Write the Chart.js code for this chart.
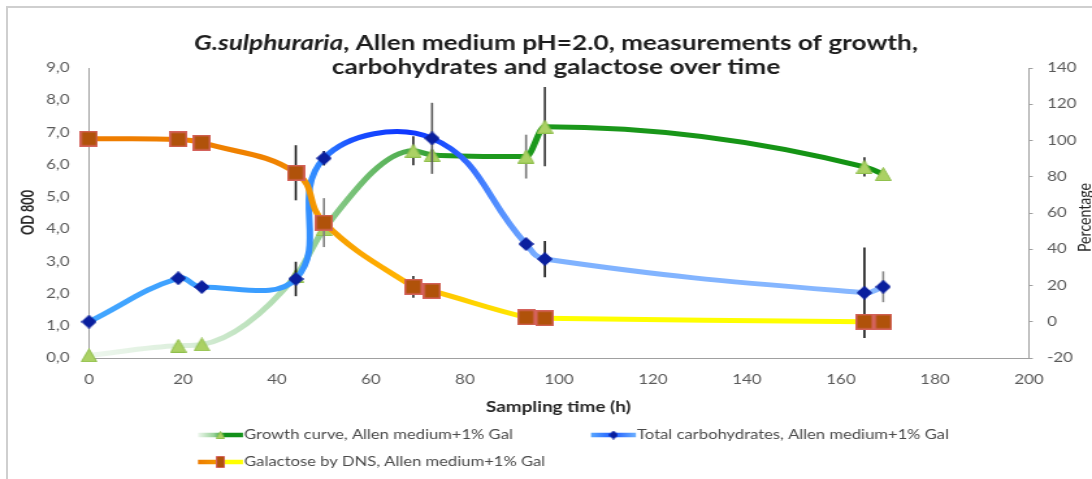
<!DOCTYPE html>
<html><head><meta charset="utf-8">
<script src="https://cdn.jsdelivr.net/npm/chart.js@4.4.1/dist/chart.umd.min.js"></script>
<style>
html,body{margin:0;padding:0;background:#fff;width:1092px;height:479px;overflow:hidden;}
#frame{position:absolute;left:6px;top:6px;width:1200px;height:600px;border-left:2px solid #cfcfcf;border-top:2px solid #cfcfcf;}
#wrap{position:absolute;left:0;top:0;width:840px;height:479px;transform:scaleX(1.3);transform-origin:0 0;}
canvas{display:block;}
</style></head><body>
<div id="frame"></div>
<div id="wrap"><canvas id="c" width="840" height="479"></canvas></div>
<script>
// ---------------- data ----------------
const titleLine1 = ['G.sulphuraria', ', Allen medium pH=2.0, measurements of growth,'];
const titleLine2 = 'carbohydrates and galactose over time';
const xTitle = 'Sampling time (h)';
const yTitle = 'OD 800';
const y1Title = 'Percentage';
const growthLabel = 'Growth curve, Allen medium+1% Gal';
const carbLabel = 'Total carbohydrates, Allen medium+1% Gal';
const galLabel = 'Galactose by DNS, Allen medium+1% Gal';

const times     = [0, 19, 24, 44, 50, 69, 73, 93, 97, 165, 169];
const growthOD  = [0.08, 0.38, 0.42, 2.55, 4.0, 6.43, 6.30, 6.25, 7.18, 5.93, 5.71];
const growthErr = [0, 0, 0, 0, 0, 0.45, 0, 0.68, 1.23, 0.3, 0];
const carbTimes = [0, 19, 24, 44, 50, 73, 93, 97, 165, 169];
const carbPct   = [0, 24, 19.2, 23.6, 90.2, 101.2, 42.9, 34.6, 16, 19.3];
const carbErr   = [0, 0, 0, 9.5, 4, 19.6, 0, 10, 25, 8.5];
const galPct    = [101, 100.6, 98.8, 82.2, 54.7, 19.3, 17, 2.4, 1.9, 0, 0];
const galErr    = [0, 0, 0, 15.2, 13.5, 6, 4, 0, 0, 0, 0];

const xTicks  = {min: 0, max: 200, step: 20};
const yTicks  = {min: 0, max: 9, step: 1};
const y1Ticks = {min: -20, max: 140, step: 20};

// ---------------- styling ----------------
const growthErrShade = ['#111','#111','#111','#111','#111','#222','#111','#777','#333','#222','#111'];
const carbErrShade   = ['#111','#111','#111','#111','#222','#555','#111','#111','#111','#888'];
const galErrShade    = ['#111','#111','#111','#111','#808080','#222','#666','#111','#111','#111','#111'];

const greenStops = [[0,'#eef7ee'],[20,'#dcefdc'],[40,'#b2ddb2'],[50,'#8fcd8f'],[62,'#62b762'],[69,'#4aab4a'],[76,'#1f9a1f'],[200,'#0f900f']];
const blueStops  = [[0,'#42a6ff'],[44,'#3a9cff'],[49,'#2f86ff'],[56,'#1a50ff'],[68,'#0d36ff'],[76,'#1e52ff'],[86,'#4f8cff'],[97,'#7fb2ff'],[200,'#8dbbff']];
const orangeStops= [[0,'#ee7c00'],[40,'#f08300'],[50,'#f59c00'],[62,'#ffac00'],[74,'#ffc400'],[88,'#ffe000'],[97,'#ffff00'],[200,'#ffff00']];

function marker(shape, w, h, fill, stroke, lw) {
  const c = document.createElement('canvas'); c.width = w; c.height = h;
  const g = c.getContext('2d');
  g.fillStyle = fill; g.strokeStyle = stroke; g.lineWidth = lw;
  const p = lw / 2;
  g.beginPath();
  if (shape === 'tri') { g.moveTo(w/2, p); g.lineTo(w-p, h-p); g.lineTo(p, h-p); g.closePath(); }
  else if (shape === 'dia') { g.moveTo(w/2, p); g.lineTo(w-p, h/2); g.lineTo(w/2, h-p); g.lineTo(p, h/2); g.closePath(); }
  else { g.rect(p, p, w-lw, h-lw); }
  g.fill(); if (lw > 0) g.stroke();
  return c;
}
const triM = marker('tri', 13, 14, '#abd164', '#8fbf4c', 1);
const diaM = marker('dia', 12, 14, '#0a1f9e', '#0a1f9e', 1);
const sqM  = marker('sq', 14, 16, '#b0520a', '#d4625c', 1.5);
const legTri = marker('tri', 7, 8, '#abd164', '#8fbf4c', 1);
const legDia = marker('dia', 7, 9, '#0a1f9e', '#0a1f9e', 1);
const legSq  = marker('sq', 7, 12, '#b0520a', '#d4625c', 1);

function lineGrad(chart, stops) {
  const xs = chart.scales.x;
  if (!xs || !chart.chartArea) return stops[0][1];
  const x0 = xs.getPixelForValue(xTicks.min), x1 = xs.getPixelForValue(xTicks.max);
  const g = chart.ctx.createLinearGradient(x0, 0, x1, 0);
  stops.forEach(([t, c]) => g.addColorStop((t - xTicks.min) / (xTicks.max - xTicks.min), c));
  return g;
}

const errorBars = {
  id: 'errorBars',
  beforeDatasetDraw(chart, args) {
    const ds = chart.data.datasets[args.index];
    if (!ds.errors) return;
    const ctx = chart.ctx, xs = chart.scales.x, ys = chart.scales[ds.yAxisID];
    ctx.save();
    ctx.lineWidth = 1.6;
    ds.data.forEach((p, i) => {
      const e = ds.errors[i];
      if (!e) return;
      const x = xs.getPixelForValue(p.x);
      ctx.strokeStyle = ds.errorShade[i];
      ctx.beginPath();
      ctx.moveTo(x, ys.getPixelForValue(p.y + e));
      ctx.lineTo(x, ys.getPixelForValue(p.y - e));
      ctx.stroke();
    });
    ctx.restore();
  }
};

function fit(ctx, text, style, family, target, base) {
  ctx.font = style + ' ' + base + 'px ' + family;
  return base * target / ctx.measureText(text).width;
}

const texts = {
  id: 'texts',
  afterDraw(chart) {
    const ctx = chart.ctx;
    ctx.save();
    // title
    const fam = 'Lato';
    let s = 20;
    ctx.font = 'italic bold ' + s + 'px ' + fam; let wa = ctx.measureText(titleLine1[0]).width;
    ctx.font = 'bold ' + s + 'px ' + fam; let wb = ctx.measureText(titleLine1[1]).width;
    s = s * 557 / (wa + wb);
    ctx.font = 'italic bold ' + s + 'px ' + fam; wa = ctx.measureText(titleLine1[0]).width;
    ctx.font = 'bold ' + s + 'px ' + fam; wb = ctx.measureText(titleLine1[1]).width;
    const cx = 427.7;
    ctx.fillStyle = '#1e1e1e';
    ctx.textBaseline = 'middle'; ctx.textAlign = 'left';
    let x0 = cx - (wa + wb) / 2;
    ctx.font = 'italic bold ' + s + 'px ' + fam; ctx.fillText(titleLine1[0], x0, 43.5);
    ctx.font = 'bold ' + s + 'px ' + fam; ctx.fillText(titleLine1[1], x0 + wa, 43.5);
    ctx.textAlign = 'center';
    ctx.fillText(titleLine2, cx, 67);

    // axis titles
    ctx.fillStyle = '#262626';
    const xs = fit(ctx, xTitle, 'bold', fam, 111.5, 13);
    ctx.font = 'bold ' + xs + 'px ' + fam;
    ctx.fillText(xTitle, 429.5, 407);
    const ys = fit(ctx, yTitle, 'bold', fam, 45, 13);
    ctx.save(); ctx.translate(21.5, 212.5); ctx.rotate(-Math.PI/2);
    ctx.font = 'bold ' + ys + 'px ' + fam; ctx.fillText(yTitle, 0, 0); ctx.restore();
    const y1s = fit(ctx, y1Title, '', fam, 69, 13);
    ctx.save(); ctx.translate(834.6, 217.5); ctx.rotate(-Math.PI/2);
    ctx.font = y1s + 'px ' + fam; ctx.fillText(y1Title, 0, 0); ctx.restore();

    // legend
    const ls = fit(ctx, carbLabel, '', fam, 240, 12);
    const items = [
      {text: growthLabel, x: 152.3, y: 435, stops: [[0,'#eef7ee'],[0.35,'#9ad39a'],[0.6,'#12901a'],[1,'#12901a']], m: legTri},
      {text: carbLabel, x: 454.6, y: 435, stops: [[0,'#5aa8ff'],[0.5,'#1f5cff'],[1,'#6fb2ff']], m: legDia},
      {text: galLabel, x: 152.3, y: 462, stops: [[0,'#ee7c00'],[0.45,'#f29a00'],[0.62,'#ffff00'],[1,'#ffff00']], m: legSq},
    ];
    items.forEach(it => {
      const g = ctx.createLinearGradient(it.x, 0, it.x + 34.6, 0);
      it.stops.forEach(([f, c]) => g.addColorStop(f, c));
      ctx.strokeStyle = g; ctx.lineWidth = 4.5; ctx.lineCap = 'butt';
      ctx.beginPath(); ctx.moveTo(it.x, it.y); ctx.lineTo(it.x + 34.6, it.y); ctx.stroke();
      ctx.drawImage(it.m, it.x + 17.3 - it.m.width / 2, it.y - it.m.height / 2);
      ctx.font = ls + 'px ' + fam;
      ctx.fillStyle = '#4a4a4a'; ctx.textAlign = 'left'; ctx.textBaseline = 'middle';
      ctx.fillText(it.text, it.x + 35.5, it.y);
    });
    ctx.restore();
  }
};

const tickFont = {family: 'Lato', size: 13};
const tickColor = '#595959';
const axisGray = '#a0a0a0';

new Chart(document.getElementById('c'), {
  type: 'line',
  data: {
    datasets: [
      {
        label: growthLabel, yAxisID: 'y', order: 3,
        data: times.map((t, i) => ({x: t, y: growthOD[i]})),
        errors: growthErr, errorShade: growthErrShade,
        borderColor: c => lineGrad(c.chart, greenStops),
        borderWidth: 5, cubicInterpolationMode: 'monotone', pointStyle: triM, pointRadius: 7, clip: false
      },
      {
        label: carbLabel, yAxisID: 'y1', order: 2,
        data: carbTimes.map((t, i) => ({x: t, y: carbPct[i]})),
        errors: carbErr, errorShade: carbErrShade,
        borderColor: c => lineGrad(c.chart, blueStops),
        borderWidth: 5, tension: 0.42, pointStyle: diaM, pointRadius: 7, clip: false
      },
      {
        label: galLabel, yAxisID: 'y1', order: 1,
        data: times.map((t, i) => ({x: t, y: galPct[i]})),
        errors: galErr, errorShade: galErrShade,
        borderColor: c => lineGrad(c.chart, orangeStops),
        borderWidth: 5, tension: 0.42, pointStyle: sqM, pointRadius: 8, clip: false
      }
    ]
  },
  options: {
    responsive: false, animation: false, events: [],
    layout: {padding: {top: 68, left: 0, right: 0, bottom: 0}},
    plugins: {legend: {display: false}, title: {display: false}, tooltip: {enabled: false}},
    scales: {
      x: {
        type: 'linear', position: 'bottom', min: xTicks.min, max: xTicks.max,
        ticks: {stepSize: xTicks.step, font: tickFont, color: tickColor, padding: 14, maxRotation: 0},
        grid: {display: false, drawTicks: false},
        border: {display: true, color: axisGray, width: 1},
        afterFit: s => { s.height = 121; }
      },
      y: {
        type: 'linear', position: 'left', min: yTicks.min, max: yTicks.max,
        ticks: {stepSize: yTicks.step, font: tickFont, color: tickColor, padding: 15,
                callback: v => v.toFixed(1).replace('.', ',')},
        grid: {display: false, drawTicks: false},
        border: {display: true, color: axisGray, width: 1},
        afterFit: s => { s.width = 68.46; }
      },
      y1: {
        type: 'linear', position: 'right', min: y1Ticks.min, max: y1Ticks.max,
        ticks: {stepSize: y1Ticks.step, font: tickFont, color: tickColor, padding: 11},
        grid: {display: true, drawOnChartArea: false, drawTicks: true, tickLength: 3, color: axisGray},
        border: {display: true, color: axisGray, width: 1},
        afterFit: s => { s.width = 48.54; }
      }
    }
  },
  plugins: [errorBars, texts]
});
</script>
</body></html>
